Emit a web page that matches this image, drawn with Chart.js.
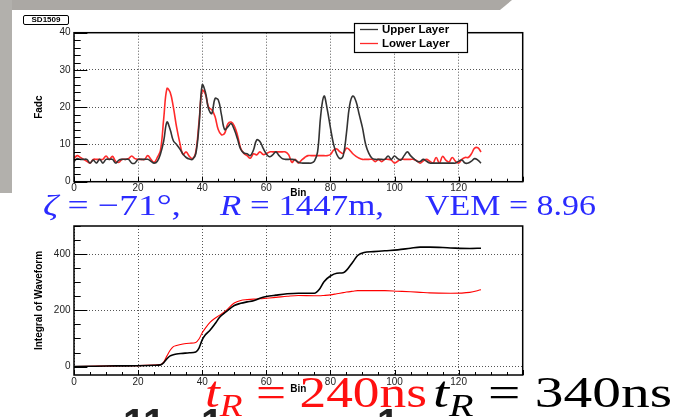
<!DOCTYPE html>
<html>
<head>
<meta charset="utf-8">
<script src="https://cdn.jsdelivr.net/npm/chart.js@4.4.1/dist/chart.umd.min.js"></script>
<style>
    html, body { margin: 0; padding: 0; background: #fff; }
    body { width: 673px; height: 417px; position: relative; overflow: hidden; }
    #bandTop { position: absolute; left: 0; top: 0; width: 512px; height: 10px; background: #aba8a4;
               clip-path: polygon(0 0, 512px 0, 500px 10px, 0 10px); }
    #bandLeft { position: absolute; left: 0; top: 0; width: 12px; height: 193px; background: #b2b0ac; }
    canvas { position: absolute; left: 0; }
    #fadcChart { top: 0; }
    #intChart { top: 215px; }
    #station { position: absolute; left: 23px; top: 15px; width: 44px; height: 8px; border: 1.3px solid #000;
               border-radius: 2px; font: bold 8px "Liberation Sans", Arial, sans-serif; line-height: 8px;
               text-align: center; color: #000; background: #fff; }
    .tx { position: absolute; white-space: nowrap; line-height: 1; transform-origin: 0 0;
          font-family: "Liberation Serif", "DejaVu Serif", serif; }
    .blue { color: #2b2bff; font-size: 30px; top: 190px; }
    .tr { font-size: 44px; top: 371px; }
    .tr sub { font-size: 0.7em; vertical-align: -0.28em; line-height: 0; }
    .cut { position: absolute; top: 403px; font: bold 40px "Liberation Sans", Arial, sans-serif; line-height: 1; color: #222; }
</style>
</head>
<body>
<div id="bandTop"></div>
<div id="bandLeft"></div>
<canvas id="fadcChart" width="673" height="215"></canvas>
<canvas id="intChart" width="673" height="202"></canvas>
<div id="station"></div>

<div class="tx blue" data-w="138" style="left:43px"><i>ζ</i> = −71°,</div>
<div class="tx blue" data-w="164" style="left:220px"><i>R</i> = 1447m,</div>
<div class="tx blue" data-w="171" style="left:425px">VEM = 8.96</div>

<div class="cut" style="left:123px">11</div>
<div class="cut" style="left:201px">1</div>
<div class="cut" style="left:377px">1</div>

<div class="tx tr" data-w="222" style="left:205px;color:#ff1010"><i>t</i><sub><i>R</i></sub> = 240ns</div>
<div class="tx tr" data-w="239" style="left:433px;color:#000"><i>t</i><sub><i>R</i></sub> = 340ns</div>

<script>
// ========== DATA ==========
const seriesNames = ['Upper Layer', 'Lower Layer'];
const stationLabel = 'SD1509';

// Fadc per bin, bins 0..127
const fadcUpper = [
    5.4, 6.2, 6, 6, 6, 5, 5.8, 5, 6, 5,
    6, 6, 6, 5, 5.8, 6, 6, 6, 5, 5,
    6, 6, 6, 6, 5.5, 5, 5.5, 7.5, 11, 16,
    14, 11, 10, 8.8, 7.4, 6.5, 6.1, 6, 7.5, 15,
    26, 24, 19.5, 18.3, 22.3, 22, 18, 14, 14.7, 15.6,
    14, 11.5, 8.7, 7.7, 7.5, 7, 8.5, 11.2, 10.8, 9,
    7.5, 6.7, 7.2, 8, 7, 6.2, 6, 6, 6, 5.8,
    5.2, 5, 5, 5, 5, 5.5, 8, 18, 23, 19.5,
    14.5, 10, 7.3, 6.2, 7, 13, 20.5, 23, 21.5, 18,
    14.5, 10, 7.6, 6.3, 6, 6, 6, 6, 6.9, 6,
    6.9, 6.2, 5.8, 7, 8, 7, 6.2, 5.5, 5.4, 6,
    5.5, 5, 5, 5, 5, 5, 5, 5, 5, 5,
    5.5, 5.8, 5, 5, 5.5, 6.2, 5.8, 5
];
const fadcLower = [
    6.2, 7, 6.5, 6, 5.5, 5, 6, 6, 6, 6,
    6.9, 6, 6.8, 5.5, 5.2, 6, 6, 6.2, 6.9, 6.2,
    6, 6, 6, 7, 6, 5.2, 6.5, 8.5, 17, 25,
    24, 20, 14.7, 10.5, 7.3, 8, 6.8, 6.2, 8, 16,
    24.5, 23.5, 20, 19.3, 17.5, 14, 12.6, 13, 15.5, 16,
    15, 12.5, 9, 7.6, 7, 6.3, 7.5, 7.2, 8, 7.3,
    7.5, 8, 8, 8, 8, 8, 8, 7.2, 5.2, 6,
    5, 5.8, 6.5, 7, 7, 7, 7, 7, 7, 7,
    7.3, 8.5, 8.8, 8, 7.6, 9, 8.5, 7.5, 6.8, 6.3,
    6, 6, 6, 6, 5.4, 6, 5.4, 6, 6, 5.8,
    5, 5.5, 6, 6, 6, 6, 6, 5.6, 5, 5.6,
    6, 5.5, 5, 6.5, 5, 6.8, 5.8, 5.3, 6.5, 5.5,
    5, 6, 6.5, 6.5, 7.5, 9, 9.1, 8
];

// Integral of waveform, read at these bins
const intBins = [0, 5, 10, 15, 20, 25, 27, 28, 29, 30, 31, 32, 34, 36, 38, 39, 40, 41, 42.5, 44,
    45.5, 47.5, 50, 52, 54, 56, 58, 60, 63, 66.5, 70, 75, 76.5, 78, 80, 82, 84, 85, 87, 88.5,
    90.5, 93.5, 97, 101, 105, 108, 111, 117.5, 123.5, 127];
const intUpper = [0, 1, 2, 2.5, 3, 4.5, 6, 14, 28, 38, 42, 45, 47, 49, 52, 66, 95, 113, 130, 152,
    176, 195, 217, 225, 230, 234, 243, 249, 254, 259, 261, 261, 274, 302, 322, 332, 334, 342, 372, 395,
    406, 409, 412, 415, 421, 425, 425, 422, 420, 421];
const intLower = [0, 1, 2, 3, 3.5, 5, 7, 16, 38, 58, 71, 75, 80, 83, 86, 98, 120, 137, 158, 172,
    183, 200, 226, 235, 238, 240, 241, 243, 246, 250, 253, 252, 252, 253, 255, 259, 263, 265, 268, 270,
    270, 270, 270, 268, 266, 264, 262, 261, 264, 273];

const xTicks = [0, 20, 40, 60, 80, 100, 120];
const fadcTicks = [0, 10, 20, 30, 40];
const intTicks = [0, 200, 400];

// ========== PLUGINS ==========
// ROOT style frame with inner tick marks
const rootAxes = {
    id: 'rootAxes',
    afterDatasetsDraw(chart, args, o) {
        const { ctx, chartArea: a, scales: { x, y } } = chart;
        ctx.save();
        ctx.strokeStyle = '#000';
        ctx.lineWidth = 1;
        ctx.beginPath();
        for (let v = x.min; v <= x.max + 1e-6; v += o.xMinor) {
            const px = Math.round(x.getPixelForValue(v)) + 0.5;
            const major = Math.abs(v / o.xMajor - Math.round(v / o.xMajor)) < 1e-6;
            ctx.moveTo(px, a.bottom);
            ctx.lineTo(px, a.bottom - (major ? 5 : 3));
        }
        for (let v = Math.ceil(y.min / o.yMinor) * o.yMinor; v <= y.max + 1e-6; v += o.yMinor) {
            const py = Math.round(y.getPixelForValue(v)) + 0.5;
            const major = Math.abs(v / o.yMajor - Math.round(v / o.yMajor)) < 1e-6;
            ctx.moveTo(a.left, py);
            ctx.lineTo(a.left + (major ? 13.4 : 6.7), py);
        }
        ctx.stroke();
        ctx.lineWidth = 1.5;
        ctx.strokeRect(a.left, a.top, a.right - a.left, a.bottom - a.top);
        ctx.restore();
    }
};

const rootLegend = {
    id: 'rootLegend',
    afterDraw(chart, args, o) {
        const ctx = chart.ctx;
        ctx.save();
        ctx.fillStyle = '#fff';
        ctx.fillRect(o.x, o.y, o.w, o.h);
        ctx.strokeStyle = '#000';
        ctx.lineWidth = 1.2;
        ctx.strokeRect(o.x + 0.5, o.y + 0.5, o.w, o.h);
        ctx.font = 'bold 11.5px "Liberation Sans", Arial, sans-serif';
        ctx.textBaseline = 'middle';
        chart.data.datasets.forEach((ds, i) => {
            const cy = o.y + 6.5 + i * 14;
            ctx.strokeStyle = ds.borderColor;
            ctx.lineWidth = 1.3;
            ctx.beginPath();
            ctx.moveTo(o.x + 6, cy);
            ctx.lineTo(o.x + 24, cy);
            ctx.stroke();
            ctx.fillStyle = '#000';
            ctx.fillText(ds.label, o.x + 28, cy);
        });
        ctx.restore();
    }
};

// ========== CHARTS ==========
function makeChart(id, datasets, cfg) {
    const tickFont = { family: '"Liberation Sans", Arial, sans-serif', size: 10 };
    const titleFont = { family: '"Liberation Sans", Arial, sans-serif', size: 10, weight: 'bold' };
    return new Chart(document.getElementById(id), {
        type: 'line',
        data: { datasets: datasets },
        options: {
            responsive: false,
            animation: false,
            devicePixelRatio: 1,
            layout: { padding: cfg.padding },
            elements: { point: { radius: 0 } },
            plugins: {
                legend: { display: false },
                tooltip: { enabled: false },
                rootAxes: cfg.axes,
                rootLegend: cfg.legend || {}
            },
            scales: {
                x: {
                    type: 'linear', min: 0, max: 140,
                    afterBuildTicks: s => { s.ticks = xTicks.map(v => ({ value: v })); },
                    afterFit: s => { s.height = cfg.xHeight; },
                    grid: { color: '#555', lineWidth: 1, drawTicks: false },
                    border: { display: false, dash: [1, 2] },
                    ticks: { padding: 1, color: '#222', font: tickFont, maxRotation: 0, autoSkip: false },
                    title: { display: true, text: 'Bin', color: '#000', font: titleFont, padding: 0 }
                },
                y: {
                    type: 'linear', min: cfg.yMin, max: cfg.yMax,
                    afterBuildTicks: s => { s.ticks = cfg.yTicks.map(v => ({ value: v })); },
                    afterFit: s => { s.width = 41; },
                    grid: { color: '#555', lineWidth: 1, drawTicks: false },
                    border: { display: false, dash: [1, 2] },
                    ticks: { padding: 3.5, color: '#222', font: tickFont, autoSkip: false },
                    title: { display: true, text: cfg.yTitle, color: '#000', font: titleFont, padding: 0 }
                }
            }
        },
        plugins: cfg.legend ? [rootAxes, rootLegend] : [rootAxes]
    });
}

const bins = fadcUpper.map((v, i) => i);

makeChart('fadcChart', [
    { label: seriesNames[0], data: bins.map(b => ({ x: b, y: fadcUpper[b] })),
      borderColor: '#333', borderWidth: 1.6, tension: 0.4 },
    { label: seriesNames[1], data: bins.map(b => ({ x: b, y: fadcLower[b] })),
      borderColor: '#ff2a2a', borderWidth: 1.6, tension: 0.4 }
], {
    padding: { left: 33, right: 150.3, top: 32.7, bottom: 15.3 },
    xHeight: 18, yMin: 0, yMax: 40, yTicks: fadcTicks, yTitle: 'Fadc',
    axes: { xMinor: 5, xMajor: 20, yMinor: 2, yMajor: 10 },
    legend: { x: 354, y: 23, w: 113, h: 29 }
});

makeChart('intChart', [
    { label: seriesNames[0], data: intBins.map((b, i) => ({ x: b, y: intUpper[i] })),
      borderColor: '#000', borderWidth: 1.6, cubicInterpolationMode: 'monotone' },
    { label: seriesNames[1], data: intBins.map((b, i) => ({ x: b, y: intLower[i] })),
      borderColor: '#ff0000', borderWidth: 1.1, cubicInterpolationMode: 'monotone' }
], {
    padding: { left: 33, right: 150.3, top: 11, bottom: 21.6 },
    xHeight: 20.4, yMin: -30, yMax: 500, yTicks: intTicks, yTitle: 'Integral of Waveform',
    axes: { xMinor: 5, xMajor: 20, yMinor: 50, yMajor: 200 }
});

document.getElementById('station').textContent = stationLabel;

// stretch overlay texts to the widths they have in the slide
document.querySelectorAll('.tx[data-w]').forEach(el => {
    const w = el.getBoundingClientRect().width;
    el.style.transform = 'scaleX(' + (parseFloat(el.dataset.w) / w) + ')';
});
</script>
</body>
</html>
